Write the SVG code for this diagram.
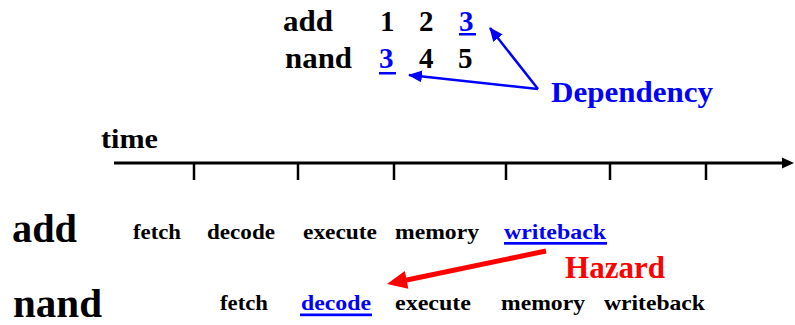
<svg xmlns="http://www.w3.org/2000/svg" width="795" height="325" viewBox="0 0 795 325">
  <style>
    text { font-family: "Liberation Serif", "Times New Roman", serif; font-weight: bold; }
    .stage { font-size: 21px; fill: #000; }
    .instr-big { font-size: 40px; fill: #000; }
    .instr-top { font-size: 29px; fill: #000; }
    .blue { fill: #0000ff; }
    .uline { fill: #0000ff; }
    .dep { stroke: #0000ff; stroke-width: 2.5; fill: none; }
    .tick { stroke: #000; stroke-width: 2.5; }
  </style>
  <defs>
    <marker id="blueHead" markerUnits="userSpaceOnUse" markerWidth="14" markerHeight="12" refX="13" refY="6" orient="auto">
      <path d="M0,0 L14,6 L0,12 z" fill="#0000ff"/>
    </marker>
  </defs>
  <rect width="795" height="325" fill="#fff"/>

  <!-- register dependency listing -->
  <g id="listing">
    <text class="instr-top" x="283" y="31" textLength="50" lengthAdjust="spacingAndGlyphs">add</text>
    <text class="instr-top" x="380" y="31">1</text>
    <text class="instr-top" x="419" y="31">2</text>
    <text class="instr-top blue" x="459" y="31">3</text>
    <rect class="uline" x="459" y="33" width="17" height="2.5"/>
    <text class="instr-top" x="285" y="68" textLength="67" lengthAdjust="spacingAndGlyphs">nand</text>
    <text class="instr-top blue" x="379" y="68">3</text>
    <rect class="uline" x="379" y="72" width="17" height="2.5"/>
    <text class="instr-top" x="419" y="68">4</text>
    <text class="instr-top" x="458" y="68">5</text>
  </g>

  <g id="dependency-label">
    <text class="blue" x="551" y="102" font-size="30" textLength="162" lengthAdjust="spacingAndGlyphs">Dependency</text>
  </g>

  <!-- time axis -->
  <g id="time-axis">
    <text x="101" y="148" font-size="28" textLength="57" lengthAdjust="spacingAndGlyphs">time</text>
    <line x1="114" y1="163" x2="785" y2="163" stroke="#000" stroke-width="3"/>
    <polygon points="782,157.5 794,163 782,168.5" fill="#000"/>
    <line class="tick" x1="194" y1="163" x2="194" y2="180"/>
    <line class="tick" x1="298" y1="163" x2="298" y2="180"/>
    <line class="tick" x1="394" y1="163" x2="394" y2="180"/>
    <line class="tick" x1="506" y1="163" x2="506" y2="180"/>
    <line class="tick" x1="610" y1="163" x2="610" y2="180"/>
    <line class="tick" x1="706" y1="163" x2="706" y2="180"/>
  </g>

  <!-- pipeline of the add instruction -->
  <g id="add-pipeline">
    <text class="instr-big" x="12" y="242" textLength="65" lengthAdjust="spacingAndGlyphs">add</text>
    <text class="stage" x="133" y="239" textLength="48" lengthAdjust="spacingAndGlyphs">fetch</text>
    <text class="stage" x="207" y="239" textLength="68" lengthAdjust="spacingAndGlyphs">decode</text>
    <text class="stage" x="303" y="239" textLength="74" lengthAdjust="spacingAndGlyphs">execute</text>
    <text class="stage" x="395" y="239" textLength="84" lengthAdjust="spacingAndGlyphs">memory</text>
    <text class="stage blue" x="504" y="239" textLength="102" lengthAdjust="spacingAndGlyphs">writeback</text>
    <rect class="uline" x="504" y="242" width="103" height="2.7"/>
  </g>

  <!-- pipeline of the nand instruction -->
  <g id="nand-pipeline">
    <text class="instr-big" x="13" y="317" textLength="89" lengthAdjust="spacingAndGlyphs">nand</text>
    <text class="stage" x="220" y="310" textLength="48" lengthAdjust="spacingAndGlyphs">fetch</text>
    <text class="stage blue" x="301" y="310" textLength="70" lengthAdjust="spacingAndGlyphs">decode</text>
    <rect class="uline" x="300" y="313.5" width="72" height="2.7"/>
    <text class="stage" x="395" y="310" textLength="76" lengthAdjust="spacingAndGlyphs">execute</text>
    <text class="stage" x="501" y="310" textLength="84" lengthAdjust="spacingAndGlyphs">memory</text>
    <text class="stage" x="604" y="310" textLength="101" lengthAdjust="spacingAndGlyphs">writeback</text>
  </g>

  <g id="hazard-label">
    <text x="565" y="278" font-size="31" fill="#ff0000" textLength="100" lengthAdjust="spacingAndGlyphs">Hazard</text>
  </g>

  <!-- connectors -->
  <g id="connectors">
    <line class="dep" x1="538" y1="89" x2="490" y2="28" marker-end="url(#blueHead)"/>
    <line class="dep" x1="538" y1="89" x2="409" y2="75" marker-end="url(#blueHead)"/>
    <line x1="546" y1="251" x2="402" y2="281" stroke="#ff0000" stroke-width="5"/>
    <polygon points="387,284 404.8,271.1 408.4,288.7" fill="#ff0000"/>
  </g>
</svg>
